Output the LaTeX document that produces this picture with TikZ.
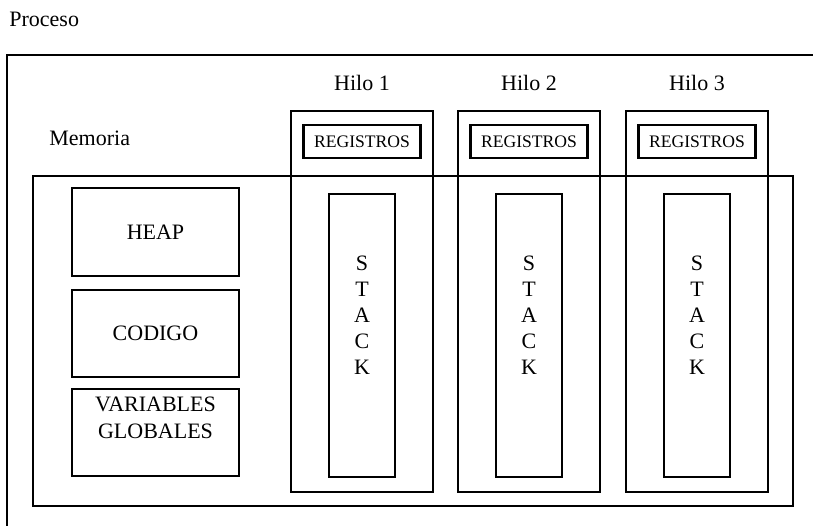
\documentclass[tikz,border=0pt]{standalone}
\usepackage{fontspec}
\setmainfont{Liberation Serif}
\usetikzlibrary{positioning}
\tikzset{box/.style = {rectangle,draw,line width=1.2pt,inner sep=0pt,font=\fontsize{11}{13}\selectfont},
         lbl/.style = {inner sep=0pt,font=\fontsize{11}{13}\selectfont},
         reg/.style = {box,minimum width=58.5pt,minimum height=16.5pt,font=\fontsize{8.8}{10}\selectfont}}

\begin{document}
\begin{tikzpicture}[x=0.5pt,y=-0.5pt]
    \useasboundingbox (0,0) rectangle (813,526);

    % proceso, cut off at the right and bottom
    \node [lbl,anchor=west] (proceso) at (9,19) {Proceso};
    \draw [line width=1pt] (813,55) -- (7,55) -- (7,526);

    % memoria
    \node [box,minimum width=380pt,minimum height=165pt] (memoria) at (413,341) {};
    \node [lbl,anchor=west] (memlbl) at (49,138.5) {Memoria};

    \node [box,minimum width=83.5pt,minimum height=44pt]   (heap)   at (155.5,232)   {HEAP};
    \node [box,minimum width=83.5pt,minimum height=43.5pt] (codigo) at (155.5,333.5) {CODIGO};
    \node [box,minimum width=83.5pt,minimum height=43.5pt] (vars)   at (155.5,432.5) {};
    \node [lbl,align=center,font=\fontsize{11}{13.5}\selectfont,below=4.25pt of vars.north] (varslbl) {VARIABLES\\GLOBALES};

    % hilos
    \begin{scope}
        \node [lbl] (titulo1) at (362,83) {Hilo 1};
        \node [box,minimum width=71pt,minimum height=190.5pt] (hilo1) at (362,301.5) {};
        \node [reg] (reg1) at (362,141.5) {REGISTROS};
        \node [box,minimum width=33pt,minimum height=141.5pt] (stack1) at (362,335.5) {};
        \node [lbl,align=center] (stacklbl1) at (362,315.5) {S\\T\\A\\C\\K};
    \end{scope}

    \begin{scope}[xshift=83.5pt]
        \node [lbl] (titulo2) at (362,83) {Hilo 2};
        \node [box,minimum width=71pt,minimum height=190.5pt] (hilo2) at (362,301.5) {};
        \node [reg] (reg2) at (362,141.5) {REGISTROS};
        \node [box,minimum width=33pt,minimum height=141.5pt] (stack2) at (362,335.5) {};
        \node [lbl,align=center] (stacklbl2) at (362,315.5) {S\\T\\A\\C\\K};
    \end{scope}

    \begin{scope}[xshift=167.5pt]
        \node [lbl] (titulo3) at (362,83) {Hilo 3};
        \node [box,minimum width=71pt,minimum height=190.5pt] (hilo3) at (362,301.5) {};
        \node [reg] (reg3) at (362,141.5) {REGISTROS};
        \node [box,minimum width=33pt,minimum height=141.5pt] (stack3) at (362,335.5) {};
        \node [lbl,align=center] (stacklbl3) at (362,315.5) {S\\T\\A\\C\\K};
    \end{scope}
\end{tikzpicture}
\end{document}
